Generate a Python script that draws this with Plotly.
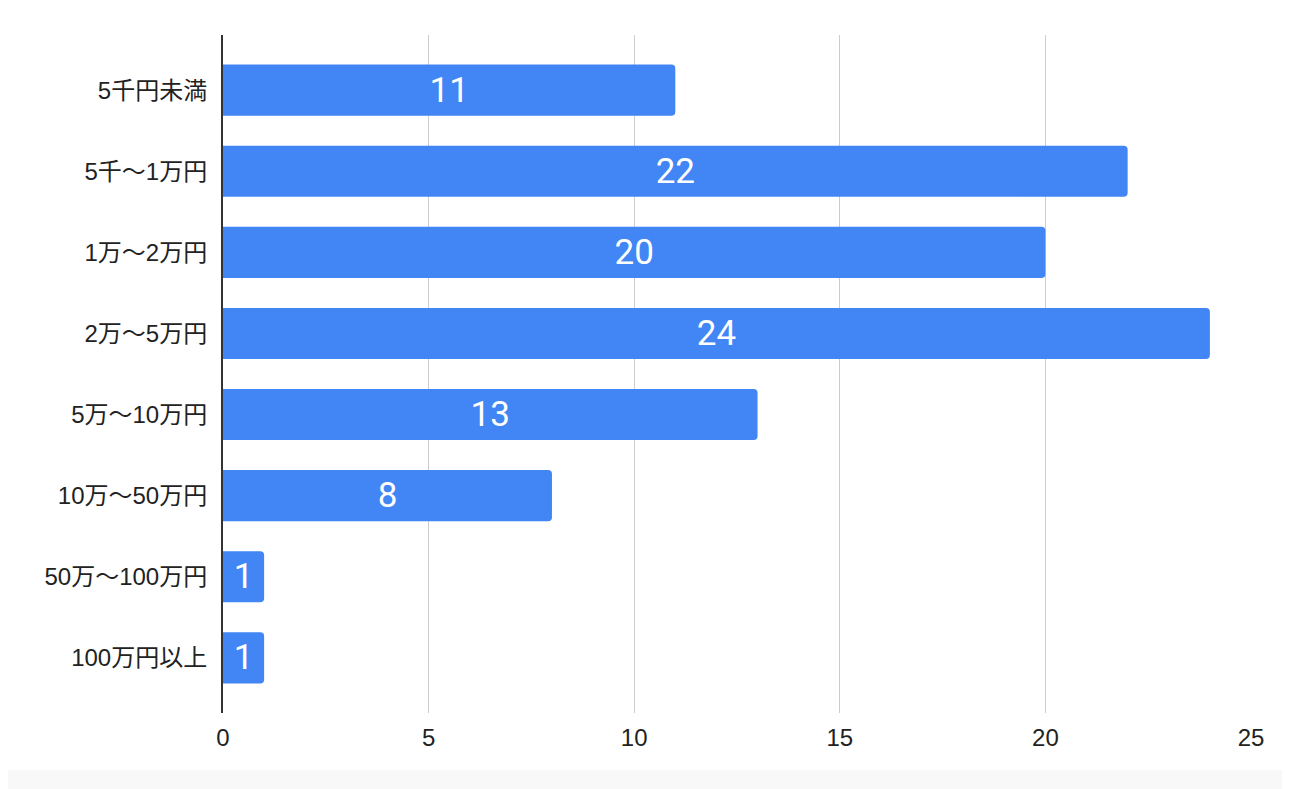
import plotly.graph_objects as go

categories = ["5千円未満", "5千～1万円", "1万～2万円", "2万～5万円",
              "5万～10万円", "10万～50万円", "50万～100万円", "100万円以上"]
values = [11, 22, 20, 24, 13, 8, 1, 1]
x_ticks = [0, 5, 10, 15, 20, 25]

L, R, T, B = 215, 39, 27, 76
W, H = 1282, 781
PW, PH = W - L - R, H - T - B
plot_bottom = T + PH  # in figure pixels

fig = go.Figure()
fig.add_trace(go.Bar(
    y=categories, x=values, orientation="h",
    marker=dict(color="#4285F4", cornerradius=4, line=dict(width=0)),
    width=0.63,
    text=[str(v) for v in values],
    textposition="inside", insidetextanchor="middle",
    textfont=dict(family="Roboto", size=35, color="white"),
    textangle=0,
    cliponaxis=False,
))

fig.update_layout(
    width=W, height=H,
    margin=dict(l=L, r=R, t=T, b=B),
    plot_bgcolor="white", paper_bgcolor="white",
    showlegend=False,
    xaxis=dict(range=[0, 25], tickvals=x_ticks, showgrid=True,
               gridcolor="#cccccc", gridwidth=1.3, zeroline=False,
               showline=False, ticks="",
               tickfont=dict(family="Liberation Sans, Arial", size=24, color="#222222"),
               ticklabelstandoff=8),
    yaxis=dict(categoryorder="array", categoryarray=categories,
               range=[7.68, -0.68], showgrid=False, zeroline=False,
               showline=True, linecolor="#333333", linewidth=2, ticks="",
               tickfont=dict(family="Liberation Sans, Noto Sans CJK JP", size=24, color="#222222"),
               ticklabelstandoff=9),
    shapes=[
        dict(type="rect", xref="paper", yref="paper",
             x0=-L / PW, x1=1 + (R + 10) / PW,
             y0=-(770 - 8 - plot_bottom) / PH, y1=-(H + 20 - plot_bottom) / PH,
             fillcolor="#f8f8f8", line=dict(width=0), layer="below"),
    ],
)

fig.write_html("out.html")
